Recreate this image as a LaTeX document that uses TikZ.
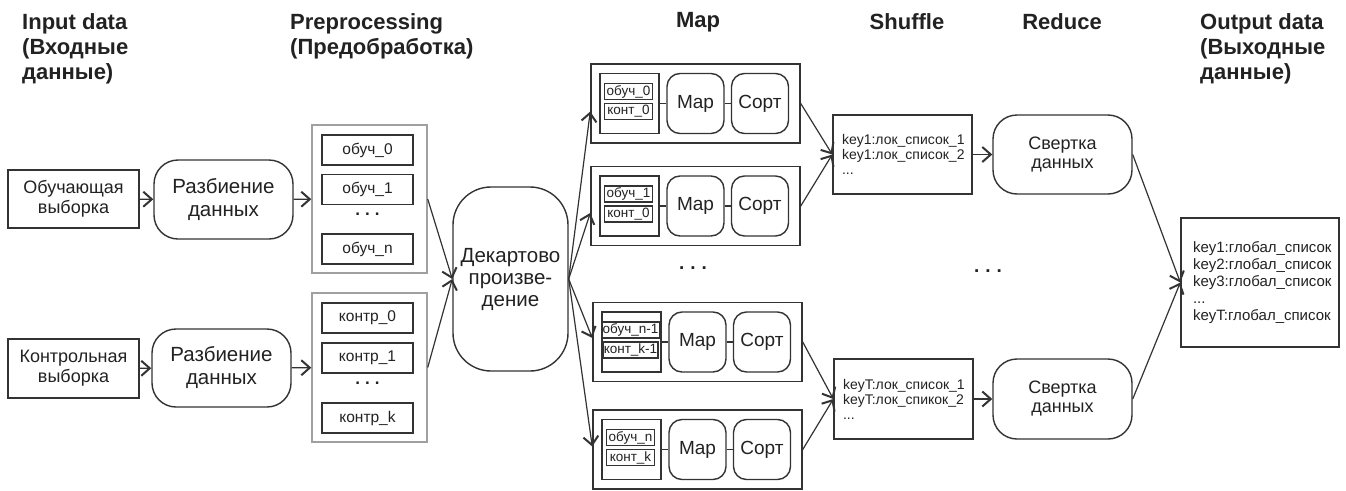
\documentclass[tikz,border=0pt]{standalone}
\usepackage{fontspec}
\setmainfont{Liberation Sans}
\usetikzlibrary{arrows.meta,calc}
\newcommand{\fsz}[2]{\fontsize{#1pt}{#2pt}\selectfont}
\definecolor{ln}{HTML}{333333}
\definecolor{tx}{HTML}{222222}
\definecolor{gr}{HTML}{A0A0A0}
\newcommand{\mapblk}[5]{%
  \node[mblock] (#1) at (#2,#3) {};
  \node[dbox] (#1d) at ($(#1)+(-66,0)$) {};
  \node[sbox] (#1a) at ($(#1d)+(-1,-12)$) {#4};
  \node[sbox] (#1b) at ($(#1d)+(-1,8)$) {#5};
  \node[rbox] (#1m) at ($(#1)+(0,0)$) {Map};
  \node[rbox] (#1s) at ($(#1)+(64.5,0)$) {Сорт};
  \draw[thinln] (#1d) -- (#1m);
  \draw[thinln] (#1m) -- (#1s);
}
\begin{document}
\begin{tikzpicture}[x=1pt,y=-1pt,
  every node/.style={text=tx, inner sep=0pt},
  head/.style={font=\fsz{22}{25}\bfseries, align=left},
  headc/.style={font=\fsz{22}{25}\bfseries},
  plain/.style={draw=ln, line width=1.4pt, minimum width=131pt, minimum height=58pt, align=center, font=\fsz{18}{20}},
  round/.style={draw=ln, line width=1.4pt, rounded corners=24pt, minimum width=139pt, minimum height=79pt, align=center, font=\fsz{20.5}{23}},
  grp/.style={draw=gr, line width=1.4pt, minimum width=115pt, minimum height=148pt},
  item/.style={draw=ln, line width=1.9pt, minimum width=91pt, minimum height=30pt, font=\fsz{15.5}{16}},
  dots/.style={font=\fsz{17}{17}\bfseries},
  bigdots/.style={font=\fsz{19}{19}\bfseries},
  mblock/.style={draw=ln, line width=1.5pt, minimum width=209pt, minimum height=79pt},
  dbox/.style={draw=ln, line width=1.9pt, minimum width=59pt, minimum height=60pt},
  sbox/.style={draw=ln, line width=1.5pt, minimum width=48pt, minimum height=16pt, inner xsep=1pt, font=\fsz{13.5}{14}},
  rbox/.style={draw=ln, line width=1.4pt, rounded corners=13pt, minimum width=57pt, minimum height=60pt, font=\fsz{19}{20}},
  lst/.style={draw=ln, line width=1.4pt, minimum width=139pt, minimum height=79pt, align=left, text width=121pt, inner xsep=9pt, font=\fsz{14}{15}},
  outl/.style={draw=ln, line width=1.4pt, minimum width=158pt, minimum height=129pt, align=left, text width=134pt, inner xsep=12pt, font=\fsz{15}{17}},
  thinln/.style={draw=ln, line width=1.2pt},
  arr/.style={draw=ln, line width=1.2pt, -{Straight Barb[length=8.5pt,width=15pt,line width=2pt]}}
]
\useasboundingbox (0,0) rectangle (1346,490);
\fill[white] (0,0) rectangle (1346,490);

% headings
\node[head, anchor=north west] (h1) at (22,13) {Input data\\(Входные\\данные)};
\node[head, anchor=north west] (h2) at (290,13) {Preprocessing\\(Предобработка)};
\node[headc] (h3) at (698,22) {Map};
\node[headc] (h4) at (907,22) {Shuffle};
\node[headc] (h5) at (1062,22) {Reduce};
\node[head, anchor=north west] (h6) at (1200,13) {Output data\\(Выходные\\данные)};

% input
\node[plain] (in1) at (73.5,199) {Обучающая\\выборка};
\node[plain, minimum height=59pt] (in2) at (73.5,368.5) {Контрольная\\выборка};
\node[round] (sp1) at (223.5,199.5) {Разбиение\\данных};
\node[round, minimum height=78pt] (sp2) at (221.5,368) {Разбиение\\данных};

% preprocessing groups
\node[grp] (g1) at (369.5,199) {};
\node[grp, minimum height=149pt] (g2) at (369.5,367.5) {};
\node[item] (o0) at (367.5,150) {обуч\_0};
\node[item] (o1) at (367.5,189.5) {обуч\_1};
\node[dots] (od) at (367.5,214) {.\hspace{5pt}.\hspace{5pt}.};
\node[item] (on) at (367.5,249) {обуч\_n};
\node[item] (k0) at (367.5,318) {контр\_0};
\node[item] (k1) at (367.5,358) {контр\_1};
\node[dots] (kd) at (367.5,383) {.\hspace{5pt}.\hspace{5pt}.};
\node[item] (kk) at (367.5,418) {контр\_k};

% cartesian product
\node[draw=ln, line width=1.4pt, rounded corners=38pt, minimum width=115pt, minimum height=184pt, align=center, font=\fsz{20.5}{22}] (dk) at (510.5,279) {Декартово\\произве-\\дение};

% map blocks
\mapblk{m1}{695.5}{103.5}{обуч\_0}{конт\_0}
\mapblk{m2}{695.5}{206}{обуч\_1}{конт\_0}
\mapblk{m3}{697.5}{342}{обуч\_n-1}{конт\_k-1}
\mapblk{m4}{697.5}{449.5}{обуч\_n}{конт\_k}
\node[bigdots] (md) at (693,268) {.\hspace{6pt}.\hspace{6pt}.};

% shuffle
\node[lst] (sh1) at (902.5,154.5) {key1:лок\_список\_1\\key1:лок\_список\_2\\...};
\node[lst, minimum height=80pt] (sh2) at (903.5,399) {keyT:лок\_список\_1\\keyT:лок\_спикок\_2\\...};

% reduce
\node[round, font=\fsz{18}{19}] (rd1) at (1062.5,154.5) {Свертка\\данных};
\node[round, font=\fsz{18}{19}, minimum height=80pt] (rd2) at (1062.5,399) {Свертка\\данных};
\node[bigdots] (rdd) at (988,271) {.\hspace{6pt}.\hspace{6pt}.};

% output
\node[outl] (out) at (1260,282.5) {key1:глобал\_список\\key2:глобал\_список\\key3:глобал\_список\\...\\keyT:глобал\_список};

% connectors
\draw[arr] (in1) -- (sp1);
\draw[arr] (in2) -- (sp2);
\draw[arr] (sp1) -- (g1);
\draw[arr] (sp2) -- (g2);
\draw[arr] (g1.east) -- (dk.west);
\draw[arr] (g2.east) -- (dk.west);
\draw[arr] (dk.east) -- ($(m1.west)+(0,8)$);
\draw[arr] (dk.east) -- ($(m2.west)+(0,7)$);
\draw[arr] (dk.east) -- ($(m3.west)+(0,-4)$);
\draw[arr] (dk.east) -- ($(m4.west)+(0,-3)$);
\draw[arr] (m1.east) -- (sh1.west);
\draw[arr] (m2.east) -- (sh1.west);
\draw[arr] (m3.east) -- (sh2.west);
\draw[arr] (m4.east) -- (sh2.west);
\draw[arr] (sh1) -- (rd1);
\draw[arr] (sh2) -- (rd2);
\draw[arr] (rd1.east) -- (out.west);
\draw[arr] (rd2.east) -- (out.west);
\end{tikzpicture}
\end{document}
